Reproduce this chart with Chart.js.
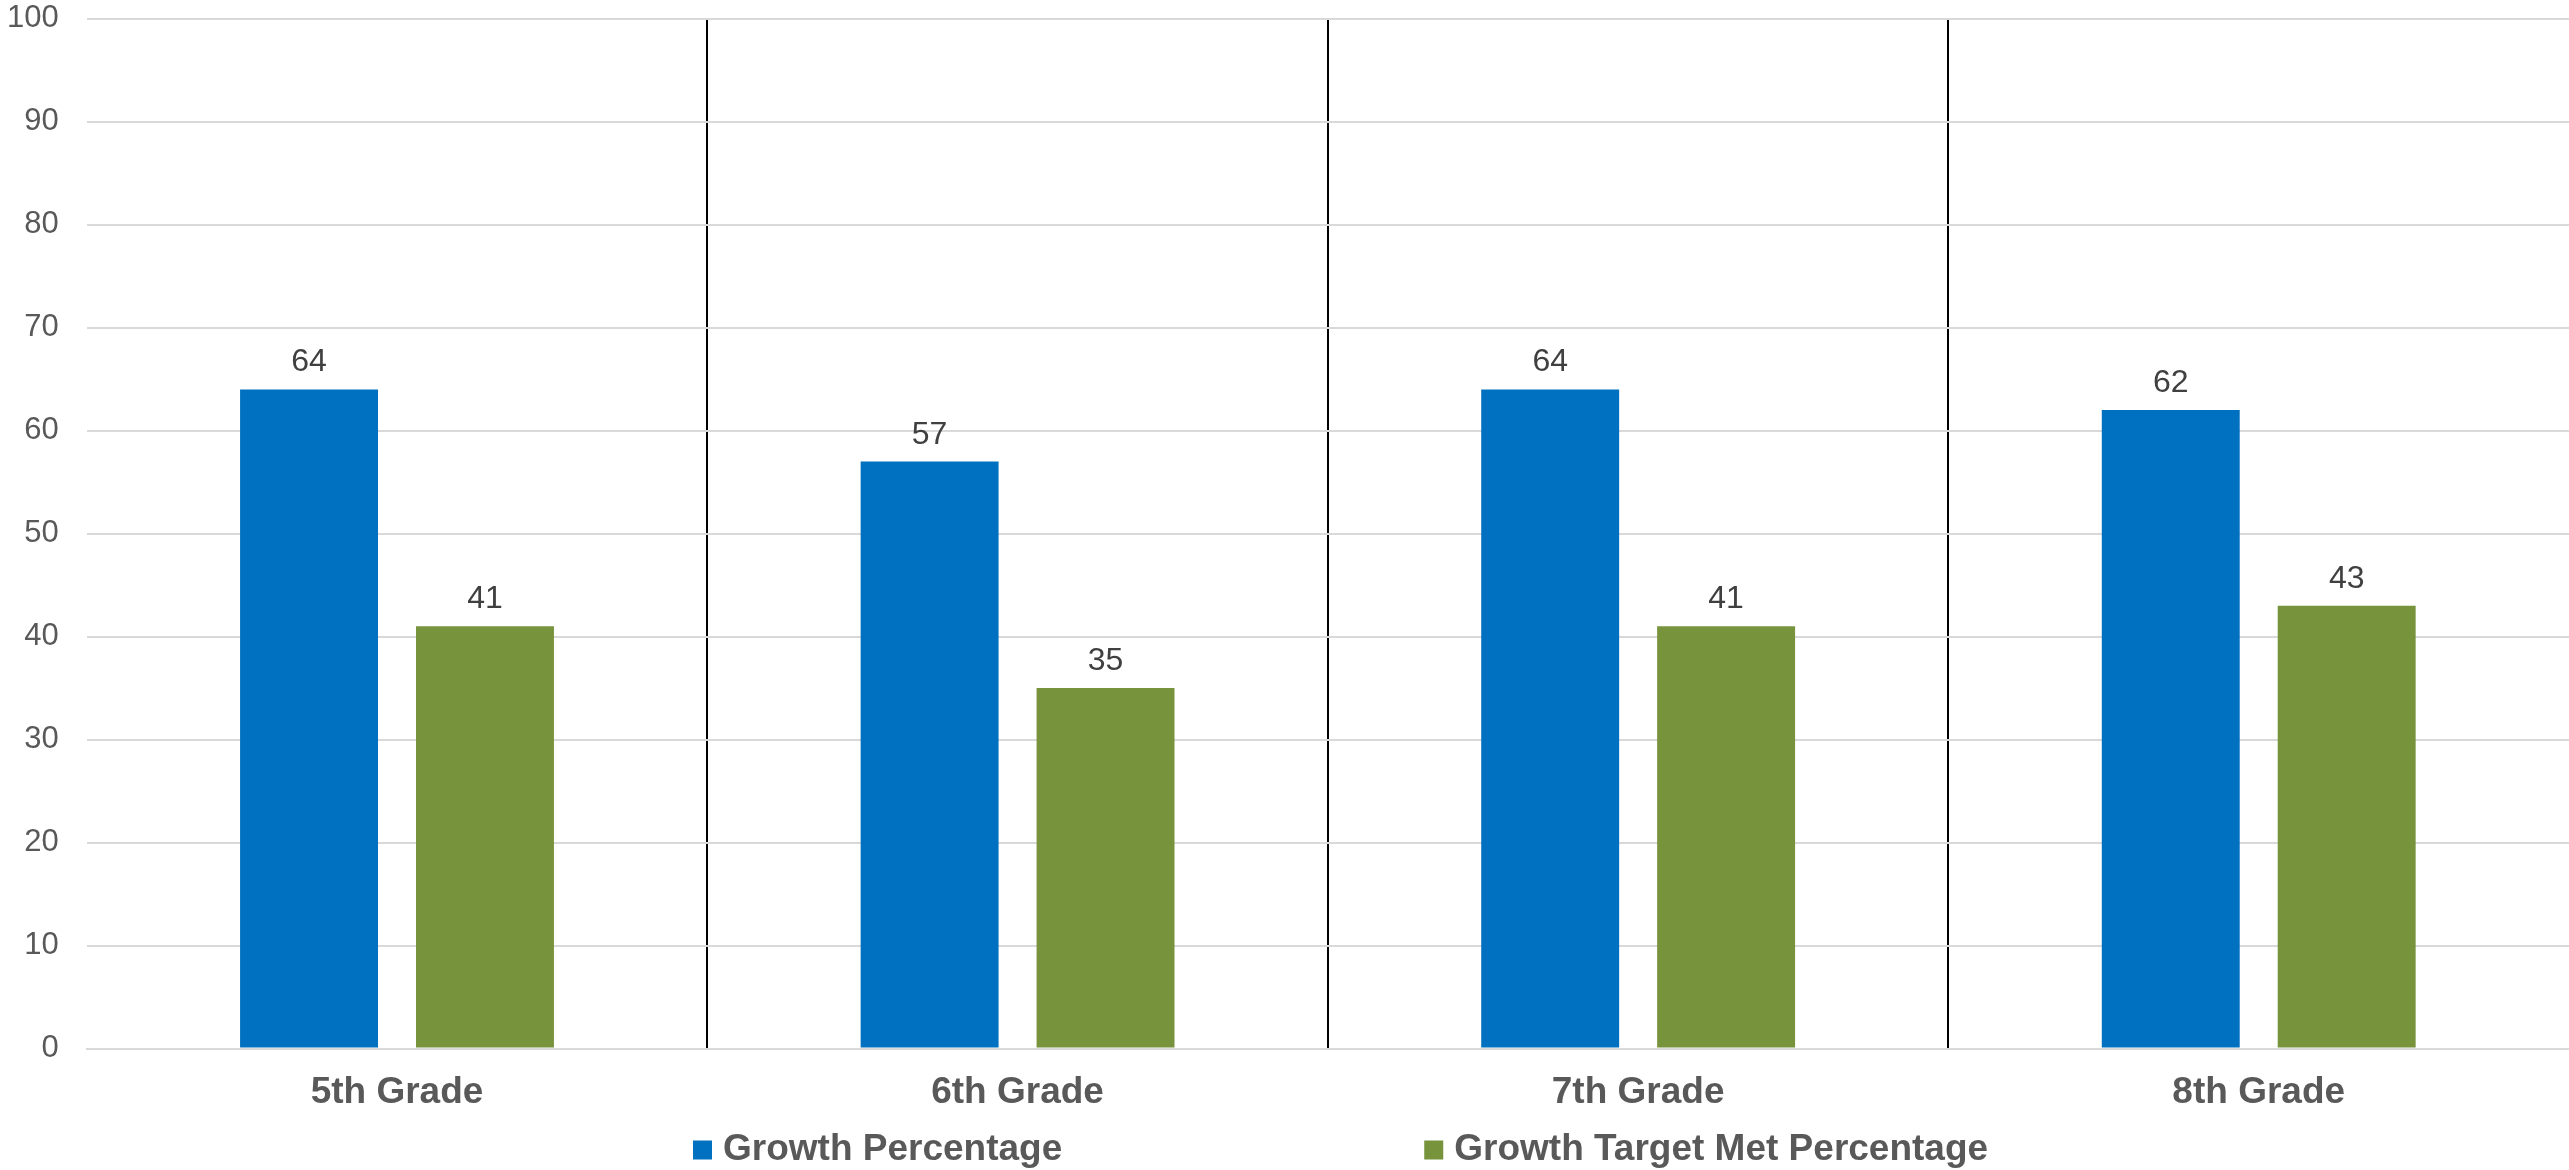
<!DOCTYPE html>
<html>
<head>
<meta charset="utf-8">
<title>Growth by Grade</title>
<script src="https://cdn.jsdelivr.net/npm/chart.js@4/dist/chart.umd.min.js"></script>
<style>
  html, body { margin: 0; padding: 0; background: #ffffff; }
  #wrap { width: 2569px; height: 1170px; position: relative; }
</style>
</head>
<body>
<div id="wrap"><canvas id="chart" width="2569" height="1170"></canvas></div>
<script>
// Grades along the x axis
const grades = ['5th Grade', '6th Grade', '7th Grade', '8th Grade'];

// Series values (percent)
const growthPercentage = [64, 57, 64, 62];
const growthTargetMetPercentage = [41, 35, 41, 43];

// Series names
const seriesNames = ['Growth Percentage', 'Growth Target Met Percentage'];

// Y axis range and step
const yMin = 0;
const yMax = 100;
const yStep = 10;

const FONT = '"Liberation Sans", Arial, Helvetica, sans-serif';
const BLUE = '#0070C0';
const GREEN = '#77933C';
const CLEAR = 'rgba(0,0,0,0)';

// Value labels above each bar
const barValueLabels = {
  id: 'barValueLabels',
  afterDatasetsDraw(chart) {
    const ctx = chart.ctx;
    ctx.save();
    ctx.font = '32px ' + FONT;
    ctx.fillStyle = '#404040';
    ctx.textAlign = 'center';
    ctx.textBaseline = 'alphabetic';
    chart.data.datasets.forEach((ds, di) => {
      const meta = chart.getDatasetMeta(di);
      meta.data.forEach((bar, i) => {
        ctx.fillText(String(ds.data[i]), bar.x, bar.y - 18);
      });
    });
    ctx.restore();
  }
};

// Legend row under the axis labels
const bottomLegend = {
  id: 'bottomLegend',
  afterDraw(chart, args, opts) {
    const ctx = chart.ctx;
    ctx.save();
    ctx.font = 'bold 37px ' + FONT;
    ctx.textBaseline = 'middle';
    ctx.textAlign = 'left';
    let x = opts.startX;
    const y = opts.centerY;
    const box = opts.boxSize;
    chart.data.datasets.forEach((ds) => {
      ctx.fillStyle = ds.backgroundColor;
      ctx.fillRect(x, y - box / 2, box, box);
      const tx = x + box + opts.textGap;
      ctx.fillStyle = '#595959';
      ctx.fillText(ds.label, tx, y);
      x = tx + ctx.measureText(ds.label).width + opts.itemGap;
    });
    ctx.restore();
  }
};

new Chart(document.getElementById('chart'), {
  type: 'bar',
  data: {
    labels: grades,
    datasets: [
      {
        label: seriesNames[0],
        data: growthPercentage,
        backgroundColor: BLUE,
        borderWidth: 0,
        categoryPercentage: 0.567,
        barPercentage: 0.784
      },
      {
        label: seriesNames[1],
        data: growthTargetMetPercentage,
        backgroundColor: GREEN,
        borderWidth: 0,
        categoryPercentage: 0.567,
        barPercentage: 0.784
      }
    ]
  },
  options: {
    responsive: false,
    animation: false,
    devicePixelRatio: 1,
    layout: { padding: { left: 7, right: 0, top: 0, bottom: 55 } },
    plugins: {
      legend: { display: false },
      tooltip: { enabled: false },
      bottomLegend: { startX: 693, centerY: 1150, boxSize: 19, textGap: 11, itemGap: 362 }
    },
    scales: {
      x: {
        offset: true,
        grid: {
          offset: true,
          drawTicks: true,
          tickLength: 22,
          tickColor: CLEAR,
          lineWidth: 2,
          color: (c) => (c.index > 0 ? '#000000' : CLEAR)
        },
        border: { display: true, color: '#d9d9d9', width: 2 },
        ticks: {
          padding: 0,
          color: '#595959',
          font: { family: FONT, size: 37, weight: 'bold' }
        }
      },
      y: {
        min: yMin,
        max: yMax,
        grid: {
          color: '#d9d9d9',
          lineWidth: 2,
          drawTicks: true,
          tickLength: 28,
          tickColor: CLEAR
        },
        border: { display: false },
        ticks: {
          stepSize: yStep,
          padding: 0,
          color: '#595959',
          font: { family: FONT, size: 31 }
        }
      }
    }
  },
  plugins: [barValueLabels, bottomLegend]
});
</script>
</body>
</html>
